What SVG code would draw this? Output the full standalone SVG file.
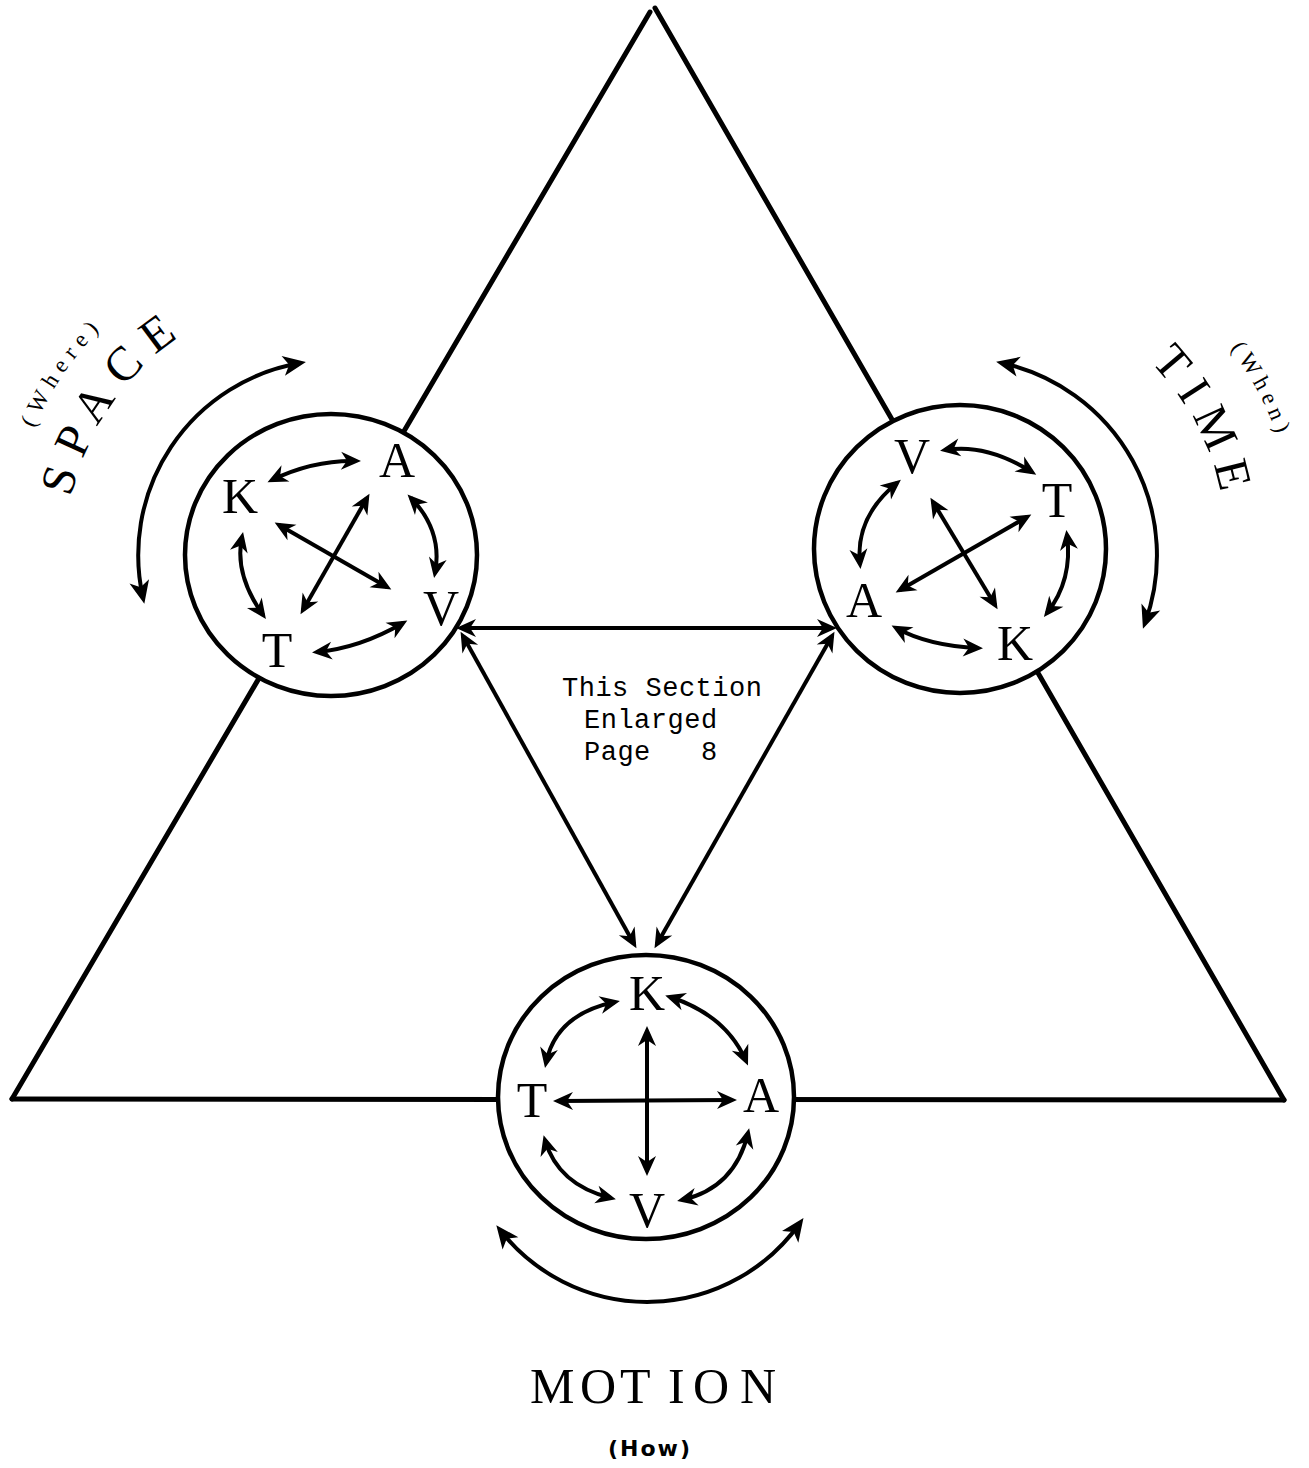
<svg xmlns="http://www.w3.org/2000/svg" width="1309" height="1468" viewBox="0 0 1309 1468">
<style>
.frame{stroke:#000;stroke-width:5;stroke-linecap:round;fill:none}
.ring{fill:#fff;stroke:#000;stroke-width:4.5}
.arr{fill:none;stroke:#000;stroke-width:4;marker-start:url(#ah);marker-end:url(#ah)}
.big{fill:none;stroke:#000;stroke-width:4;marker-start:url(#ahL);marker-end:url(#ahL)}
.lt{font-family:"Liberation Serif",serif;font-size:50px;text-anchor:middle;fill:#000}
.title{font-family:"Liberation Serif",serif;fill:#000}
.note{font-family:"Liberation Mono",monospace;font-size:27px;letter-spacing:0.5px;fill:#000}
</style>
<defs>
<marker id="ah" viewBox="-20 -10 23 20" markerWidth="23" markerHeight="20" markerUnits="userSpaceOnUse" refX="-3" refY="0" orient="auto-start-reverse">
<path d="M2,0 L-18,-9 L-12,0 L-18,9 Z" fill="#000"/>
</marker>
<marker id="ahL" viewBox="-22 -11 26 22" markerWidth="26" markerHeight="22" markerUnits="userSpaceOnUse" refX="-3" refY="0" orient="auto-start-reverse">
<path d="M3,0 L-20,-10 L-14,0 L-20,10 Z" fill="#000"/>
</marker>
<path id="pSpace" d="M 65 555 A 266 266 0 0 1 331 289" fill="none"/>
<path id="pWhere" d="M 8 555 A 323 323 0 0 1 331 232" fill="none"/>
<path id="pTime" d="M 961 283 A 266 266 0 0 1 1227 549" fill="none"/>
<path id="pWhen" d="M 961 213 A 336 336 0 0 1 1297 549" fill="none"/>
</defs>
<rect width="1309" height="1468" fill="#fff"/>

<g id="frame">
<line class="frame" x1="12" y1="1099" x2="650" y2="12"/>
<line class="frame" x1="655" y1="8" x2="1284" y2="1100"/>
<line class="frame" x1="12" y1="1099" x2="1284" y2="1100"/>
</g>

<g id="node-space">
<ellipse class="ring" cx="331" cy="555" rx="146" ry="141"/>
<text class="lt" x="240" y="513">K</text>
<text class="lt" x="397" y="477">A</text>
<text class="lt" x="441" y="625">V</text>
<text class="lt" x="277" y="667">T</text>
<path class="arr" d="M 272 480 Q 313 460 356 461"/>
<path class="arr" d="M 411 498 Q 443 531 435 573"/>
<path class="arr" d="M 403 623 Q 360 648 317 652"/>
<path class="arr" d="M 242 537 Q 234 574 263 615"/>
<path class="arr" d="M 279 525 L 387 587"/>
<path class="arr" d="M 367 498 L 303 610"/>
<path class="big" d="M 143 598 A 195 195 0 0 1 300 363"/>
<text class="title" font-size="48" letter-spacing="13"><textPath href="#pSpace" startOffset="163" text-anchor="middle">SPACE</textPath></text>
<text class="title" font-size="23" letter-spacing="7"><textPath href="#pWhere" startOffset="193" text-anchor="middle">(Where)</textPath></text>
</g>

<g id="node-time">
<ellipse class="ring" cx="960" cy="549" rx="146" ry="144"/>
<text class="lt" x="912" y="473">V</text>
<text class="lt" x="1057" y="517">T</text>
<text class="lt" x="864" y="617">A</text>
<text class="lt" x="1015" y="660">K</text>
<path class="arr" d="M 945 450 Q 986 443 1032 472"/>
<path class="arr" d="M 897 483 Q 855 517 860 564"/>
<path class="arr" d="M 1067 535 Q 1073 580 1047 613"/>
<path class="arr" d="M 896 628 Q 929 646 978 648"/>
<path class="arr" d="M 933 502 L 995 605"/>
<path class="arr" d="M 1027 517 L 900 590"/>
<path class="big" d="M 1002 363 A 197 197 0 0 1 1145 623"/>
<text class="title" font-size="48" letter-spacing="11"><textPath href="#pTime" startOffset="291" text-anchor="middle">TIME</textPath></text>
<text class="title" font-size="23" letter-spacing="5.5"><textPath href="#pWhen" startOffset="364" text-anchor="middle">(When)</textPath></text>
</g>

<g id="node-motion">
<ellipse class="ring" cx="646" cy="1097" rx="148" ry="142"/>
<text class="lt" x="647" y="1010">K</text>
<text class="lt" x="532" y="1117">T</text>
<text class="lt" x="761" y="1112">A</text>
<text class="lt" x="647" y="1227">V</text>
<path class="arr" d="M 647 1031 L 647 1171"/>
<path class="arr" d="M 558 1101 L 732 1100"/>
<path class="arr" d="M 546 1063 Q 556 1014 615 1002"/>
<path class="arr" d="M 670 997 Q 726 1015 746 1061"/>
<path class="arr" d="M 545 1140 Q 558 1185 611 1198"/>
<path class="arr" d="M 682 1200 Q 735 1188 748 1133"/>
<path class="big" d="M 500 1230 A 187 187 0 0 0 800 1223"/>
<text class="title" font-size="50" x="530 580 620 668 693 740" y="1403">MOTION</text>
<text x="650" y="1456" font-family="DejaVu Sans, sans-serif" font-size="22" font-weight="bold" letter-spacing="2" text-anchor="middle">(How)</text>
</g>

<g id="connectors">
<path class="arr" d="M 461 628 L 832 628"/>
<path class="arr" d="M 463 636 L 634 944"/>
<path class="arr" d="M 832 636 L 657 944"/>
</g>

<g id="note">
<text class="note" x="562" y="696">This Section</text>
<text class="note" x="584" y="728">Enlarged</text>
<text class="note" x="584" y="760">Page <tspan x="701">8</tspan></text>
</g>
</svg>
